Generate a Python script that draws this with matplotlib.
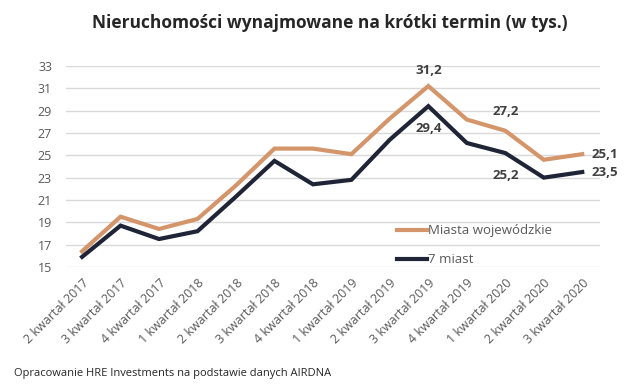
import matplotlib.pyplot as plt

kwartaly = ["2 kwartał 2017", "3 kwartał 2017", "4 kwartał 2017", "1 kwartał 2018",
            "2 kwartał 2018", "3 kwartał 2018", "4 kwartał 2018", "1 kwartał 2019",
            "2 kwartał 2019", "3 kwartał 2019", "4 kwartał 2019", "1 kwartał 2020",
            "2 kwartał 2020", "3 kwartał 2020"]
miasta_woj = [16.4, 19.5, 18.4, 19.3, 22.3, 25.6, 25.6, 25.1, 28.3, 31.2, 28.2, 27.2, 24.6, 25.1]
siedem_miast = [15.9, 18.7, 17.5, 18.2, 21.3, 24.5, 22.4, 22.8, 26.4, 29.4, 26.1, 25.2, 23.0, 23.5]

orange = "#D4956A"
navy = "#1F2536"
lab = "#404040"

plt.rcParams['font.family'] = ['Open Sans', 'DejaVu Sans']

fig = plt.figure(figsize=(6.4, 3.88), dpi=100)
ax = fig.add_axes([0.103, 0.312, 0.835, 0.518])
x = list(range(len(kwartaly)))

ax.plot(x, miasta_woj, color=orange, lw=3, label="Miasta wojewódzkie", solid_joinstyle="miter")
ax.plot(x, siedem_miast, color=navy, lw=3, label="7 miast", solid_joinstyle="miter")

ax.set_ylim(15, 33)
ax.set_yticks(range(15, 34, 2))
ax.set_xlim(-0.42, 13.47)
ax.set_xticks(x)
ax.set_xticklabels(kwartaly, rotation=45, ha="right", rotation_mode="anchor",
                   fontsize=9, color="#595959")
ax.tick_params(axis="y", labelsize=9, colors="#595959", length=0, pad=10)
ax.tick_params(axis="x", length=0, pad=7)
ax.grid(axis="y", color="#D9D9D9", lw=1)
ax.set_axisbelow(True)
for s in ax.spines.values():
    s.set_visible(False)

def lbl(i, v, dx, dy, ha="center"):
    ax.annotate(f"{v:.1f}".replace(".", ","), (x[i], v), xytext=(dx, dy),
                textcoords="offset points", ha=ha, va="center",
                fontsize=9.5, fontweight="bold", color=lab)

lbl(9, miasta_woj[9], 0, 11)
lbl(9, siedem_miast[9], 0, -16)
lbl(11, miasta_woj[11], 0, 13.5)
lbl(11, siedem_miast[11], 0, -16)
lbl(13, miasta_woj[13], 7, 0, ha="left")
lbl(13, siedem_miast[13], 7, 0, ha="left")

leg = ax.legend(loc="lower left", bbox_to_anchor=(0.597, -0.055), frameon=False,
                fontsize=9.5, handlelength=2.3, handletextpad=0.1, labelspacing=1.2,
                labelcolor="#595959")

fig.suptitle("Nieruchomości wynajmowane na krótki termin (w tys.)", x=0.515, y=0.965,
             fontsize=12.5, fontweight="bold", color="#262626")
fig.text(0.022, 0.03, "Opracowanie HRE Investments na podstawie danych AIRDNA",
         fontsize=8, color="#262626")

fig.savefig("out.png", dpi=100)
